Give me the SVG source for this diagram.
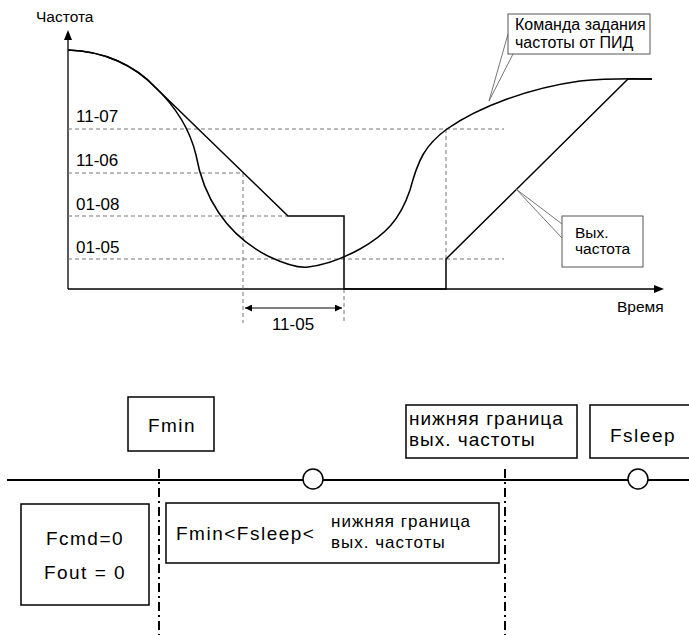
<svg xmlns="http://www.w3.org/2000/svg" width="689" height="635" viewBox="0 0 689 635">
<style>
.t{font-family:"Liberation Sans",Arial,sans-serif;fill:#000}
.s15{font-size:15.5px}
.s16{font-size:16px}
.s17{font-size:17px}
.b19{font-size:19px;letter-spacing:1.5px}
.m17{font-size:17px;letter-spacing:1px}
.dash{stroke:#777;stroke-width:1;stroke-dasharray:4,3;fill:none}
.ax{stroke:#000;stroke-width:1.3;fill:none}
.crv{stroke:#000;stroke-width:1.5;fill:none;stroke-linejoin:miter}
.lead{stroke:#666;stroke-width:0.9;fill:none}
.box{fill:#fff;stroke:#000;stroke-width:1.5}
.cb{fill:#fff;stroke:#555;stroke-width:1}
.dd{stroke:#000;stroke-width:2;stroke-dasharray:9,4,2,4;fill:none}
</style>
<defs>
<marker id="ah" viewBox="0 0 10 10" refX="10" refY="5" markerWidth="9" markerHeight="7" markerUnits="userSpaceOnUse" orient="auto-start-reverse">
<path d="M0,0 L10,5 L0,10 Z" fill="#000"/>
</marker>
</defs>

<g id="chart-axes">
<line class="ax" x1="68" y1="38" x2="68" y2="289"/>
<path d="M68,30 L72,40 L64,40 Z" fill="#000"/>
<line class="ax" x1="68" y1="289" x2="655" y2="289"/>
<path d="M664,289 L654,285 L654,293 Z" fill="#000"/>
<text class="t s15" x="36" y="22">Частота</text>
<text class="t s15" x="617" y="312">Время</text>
</g>

<g id="guides">
<line class="dash" x1="68" y1="129" x2="504" y2="129"/>
<line class="dash" x1="68" y1="173" x2="243" y2="173"/>
<line class="dash" x1="68" y1="216" x2="288" y2="216"/>
<line class="dash" x1="68" y1="259" x2="504" y2="259"/>
<line class="dash" x1="243" y1="173" x2="243" y2="323"/>
<line class="dash" x1="344" y1="289" x2="344" y2="323"/>
<line class="dash" x1="446" y1="129" x2="446" y2="259"/>
<text class="t s17" x="76" y="122">11-07</text>
<text class="t s17" x="76" y="166">11-06</text>
<text class="t s17" x="76" y="210">01-08</text>
<text class="t s17" x="76" y="253">01-05</text>
</g>

<g id="connectors">
<path class="crv" d="M68,50 C105,51 135,66 155,87 C175,106 190,130 196,155 C203,195 225,235 270,257 C285,264 300,268 308,267 C325,265 340,260 360,249 C385,235 400,220 410,190 C418,160 425,145 447,129 C480,106 530,88 580,81 C610,78 640,79 652,79"/>
<path class="crv" d="M68,50 C105,51 135,66 155,87 L288,216 L344,216 L344,289 L446,289 L446,259 L628,79 L652,79"/>
<line x1="245" y1="308" x2="342" y2="308" stroke="#000" stroke-width="1.2" marker-start="url(#ah)" marker-end="url(#ah)"/>
<path class="lead" d="M508,34 L489,101 L513,54"/>
<path class="lead" d="M562,224 L516,189 L562,238"/>
</g>

<g id="label-11-05">
<text class="t s17" x="293" y="330" text-anchor="middle">11-05</text>
</g>

<g id="callout-pid">
<rect class="cb" x="508" y="14" width="142" height="40"/>
<text class="t s16" x="515" y="30">Команда задания</text>
<text class="t s16" x="515" y="48">частоты от ПИД</text>
</g>

<g id="callout-out">
<rect class="cb" x="562" y="216" width="81" height="51"/>
<text class="t s15" x="575" y="238">Вых.</text>
<text class="t s15" x="575" y="254">частота</text>
</g>

<g id="timeline">
<line x1="7" y1="480" x2="689" y2="480" stroke="#000" stroke-width="2"/>
<line class="dd" x1="159" y1="469" x2="159" y2="635"/>
<line class="dd" x1="505" y1="469" x2="505" y2="635"/>
<circle cx="313" cy="479" r="10" fill="#fff" stroke="#000" stroke-width="1.5"/>
<circle cx="638" cy="479" r="10" fill="#fff" stroke="#000" stroke-width="1.5"/>
</g>

<g id="fmin">
<rect class="box" x="128" y="397" width="86" height="54"/>
<text class="t b19" x="172" y="432" text-anchor="middle">Fmin</text>
</g>

<g id="lower-bound">
<rect class="box" x="406" y="405" width="171" height="53"/>
<text class="t b19" style="letter-spacing:1px" x="409" y="425">нижняя граница</text>
<text class="t b19" style="letter-spacing:1px" x="409" y="446">вых. частоты</text>
</g>

<g id="fsleep">
<rect class="box" x="590" y="405" width="110" height="53"/>
<text class="t b19" x="643" y="442" text-anchor="middle">Fsleep</text>
</g>

<g id="fcmd">
<rect class="box" x="21" y="504" width="128" height="101"/>
<text class="t b19" x="85" y="545" text-anchor="middle">Fcmd=0</text>
<text class="t b19" x="85" y="579" text-anchor="middle">Fout = 0</text>
</g>

<g id="condition">
<rect class="box" x="166" y="503" width="333" height="60"/>
<text class="t b19" x="176" y="540">Fmin&lt;Fsleep&lt;</text>
<text class="t m17" x="331" y="527">нижняя граница</text>
<text class="t m17" x="331" y="548">вых. частоты</text>
</g>
</svg>
